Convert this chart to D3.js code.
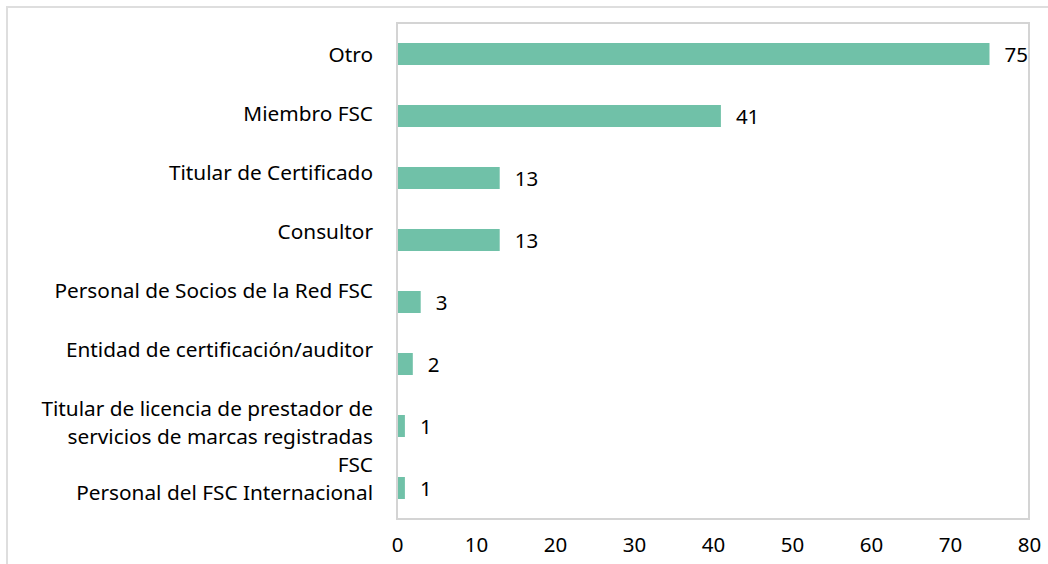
<!DOCTYPE html>
<html>
<head>
<meta charset="utf-8">
<script src="https://cdn.jsdelivr.net/npm/d3@7"></script>
<style>
  body { margin: 0; background: #fff; }
  text { font-family: "Noto Sans", "Open Sans", sans-serif; fill: #000; }
</style>
</head>
<body>
<div id="chart"></div>
<script>
// categories, top to bottom (label lines as shown in the picture)
const categories = [
  "Otro",
  "Miembro FSC",
  "Titular de Certificado",
  "Consultor",
  "Personal de Socios de la Red FSC",
  "Entidad de certificación/auditor",
  "Titular de licencia de prestador de servicios de marcas registradas FSC",
  "Personal del FSC Internacional"
]
const labelLines = [
  ["Otro"],
  ["Miembro FSC"],
  ["Titular de Certificado"],
  ["Consultor"],
  ["Personal de Socios de la Red FSC"],
  ["Entidad de certificación/auditor"],
  ["Titular de licencia de prestador de", "servicios de marcas registradas", "FSC"],
  ["Personal del FSC Internacional"]
]
const values = [75, 41, 13, 13, 3, 2, 1, 1]
const xTicks = [0, 10, 20, 30, 40, 50, 60, 70, 80]

var width = 1048, height = 564
var plot = {left: 397, top: 23, right: 1029, bottom: 519}

var svg = d3.select("#chart").append("svg")
  .attr("width", width)
  .attr("height", height)

// outer frame
svg.append("path")
  .attr("d", "M7," + height + "V7H" + width)
  .attr("fill", "none")
  .attr("stroke", "#dedede")
  .attr("stroke-width", 2)

var x = d3.scaleLinear().domain([0, 80]).range([plot.left, plot.right])
var y = d3.scaleBand().domain(categories).range([plot.top, plot.bottom]).paddingInner(0.645).paddingOuter(0.3225)

// plot box
svg.append("rect")
  .attr("x", plot.left)
  .attr("y", plot.top)
  .attr("width", plot.right - plot.left)
  .attr("height", plot.bottom - plot.top)
  .attr("fill", "none")
  .attr("stroke", "#d4d4d4")
  .attr("stroke-width", 2)

var data = categories.map(function(c, i) { return {cat: c, value: values[i], lines: labelLines[i]} })

svg.selectAll(".bar")
    .data(data)
  .enter().append("rect")
    .attr("class", "bar")
    .attr("x", x(0) + 1)
    .attr("y", function(d) { return y(d.cat) })
    .attr("width", function(d) { return x(d.value) - x(0) - 1 })
    .attr("height", y.bandwidth())
    .attr("fill", "#70c1a8")

// value labels
svg.selectAll(".val")
    .data(data)
  .enter().append("text")
    .attr("class", "val")
    .attr("x", function(d) { return x(d.value) + 15 })
    .attr("y", function(d) { return y(d.cat) + y.bandwidth() / 2 + 1 })
    .attr("dy", "0.35em")
    .style("font-size", "20.5px")
    .text(function(d) { return d.value })

// x axis (labels only)
var xAxis = d3.axisBottom(x).tickValues(xTicks).tickSize(0).tickPadding(0)
var gx = svg.append("g")
  .attr("transform", "translate(0," + 537 + ")")
  .call(xAxis)
gx.select(".domain").remove()
gx.selectAll("text")
  .attr("dy", "0.71em")
  .style("font-size", "20.5px")
  .style("font-family", "'Noto Sans', sans-serif")
  .attr("fill", "#000")

// category labels: Excel-like stacking so wrapped labels don't overlap
var lineH = 28, step = 59, firstY = 55
var prevY = -Infinity, prevN = 0
data.forEach(function(d, i) {
  var yy = Math.max(firstY + i * step, prevY + prevN * lineH)
  d.labelY = yy
  prevY = yy
  prevN = d.lines.length
})

var labels = svg.selectAll(".cat")
    .data(data)
  .enter().append("text")
    .attr("class", "cat")
    .attr("text-anchor", "end")
    .style("font-size", "20.8px")

labels.selectAll("tspan")
    .data(function(d) { return d.lines.map(function(l, j) { return {t: l, y: d.labelY + j * lineH} }) })
  .enter().append("tspan")
    .attr("x", 373)
    .attr("y", function(d) { return d.y })
    .attr("dy", "0.35em")
    .text(function(d) { return d.t })
</script>
</body>
</html>
